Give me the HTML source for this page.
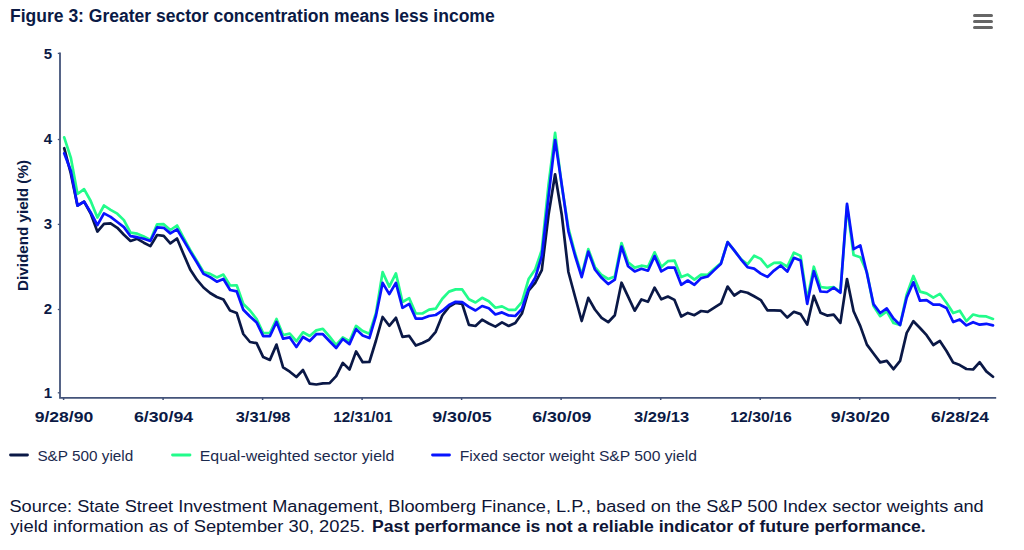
<!DOCTYPE html>
<html><head><meta charset="utf-8"><title>Figure 3</title>
<style>html,body{margin:0;padding:0;background:#fff;width:1024px;height:550px;overflow:hidden}svg{display:block}text{font-family:"Liberation Sans",sans-serif}</style>
</head><body>
<svg width="1024" height="550" viewBox="0 0 1024 550"><rect width="1024" height="550" fill="#ffffff"/><text x="10" y="21.7" font-family="Liberation Sans, sans-serif" font-weight="bold" font-size="18" fill="#0b1a45" textLength="484.7" lengthAdjust="spacingAndGlyphs">Figure 3: Greater sector concentration means less income</text><g stroke="#666666" stroke-width="3" stroke-linecap="round"><path d="M974.5,15.5 H991.5"/><path d="M974.5,21.5 H991.5"/><path d="M974.5,27.5 H991.5"/></g><text transform="translate(28.4,225.5) rotate(-90)" text-anchor="middle" font-family="Liberation Sans, sans-serif" font-weight="bold" font-size="14" fill="#0b1a45" textLength="131" lengthAdjust="spacingAndGlyphs">Dividend yield (%)</text><path d="M60,52.6 V397.9 H996.2" fill="none" stroke="#44547a" stroke-width="1.8"/><path d="M57.8,53.4 H60" stroke="#44547a" stroke-width="1.3"/><path d="M57.8,139.5 H60" stroke="#44547a" stroke-width="1.3"/><path d="M57.8,224.4 H60" stroke="#44547a" stroke-width="1.3"/><path d="M57.8,309.5 H60" stroke="#44547a" stroke-width="1.3"/><path d="M57.8,392.8 H60" stroke="#44547a" stroke-width="1.3"/><text x="52" y="59.0" text-anchor="end" font-family="Liberation Sans, sans-serif" font-weight="bold" font-size="15" fill="#0b1a45">5</text><text x="52" y="143.8" text-anchor="end" font-family="Liberation Sans, sans-serif" font-weight="bold" font-size="15" fill="#0b1a45">4</text><text x="52" y="228.7" text-anchor="end" font-family="Liberation Sans, sans-serif" font-weight="bold" font-size="15" fill="#0b1a45">3</text><text x="52" y="313.6" text-anchor="end" font-family="Liberation Sans, sans-serif" font-weight="bold" font-size="15" fill="#0b1a45">2</text><text x="52" y="398.4" text-anchor="end" font-family="Liberation Sans, sans-serif" font-weight="bold" font-size="15" fill="#0b1a45">1</text><path d="M63.6,397.5 V400" stroke="#44547a" stroke-width="1.5"/><text x="34.7" y="421.5" font-family="Liberation Sans, sans-serif" font-weight="bold" font-size="14.5" fill="#0b1a45" textLength="58.6" lengthAdjust="spacingAndGlyphs">9/28/90</text><path d="M163.1,397.5 V400" stroke="#44547a" stroke-width="1.5"/><text x="134.0" y="421.5" font-family="Liberation Sans, sans-serif" font-weight="bold" font-size="14.5" fill="#0b1a45" textLength="59.1" lengthAdjust="spacingAndGlyphs">6/30/94</text><path d="M262.6,397.5 V400" stroke="#44547a" stroke-width="1.5"/><text x="235.7" y="421.5" font-family="Liberation Sans, sans-serif" font-weight="bold" font-size="14.5" fill="#0b1a45" textLength="54.8" lengthAdjust="spacingAndGlyphs">3/31/98</text><path d="M362.1,397.5 V400" stroke="#44547a" stroke-width="1.5"/><text x="333.3" y="421.5" font-family="Liberation Sans, sans-serif" font-weight="bold" font-size="14.5" fill="#0b1a45" textLength="59.2" lengthAdjust="spacingAndGlyphs">12/31/01</text><path d="M461.6,397.5 V400" stroke="#44547a" stroke-width="1.5"/><text x="432.2" y="421.5" font-family="Liberation Sans, sans-serif" font-weight="bold" font-size="14.5" fill="#0b1a45" textLength="59.5" lengthAdjust="spacingAndGlyphs">9/30/05</text><path d="M561.1,397.5 V400" stroke="#44547a" stroke-width="1.5"/><text x="532.2" y="421.5" font-family="Liberation Sans, sans-serif" font-weight="bold" font-size="14.5" fill="#0b1a45" textLength="59.2" lengthAdjust="spacingAndGlyphs">6/30/09</text><path d="M660.7,397.5 V400" stroke="#44547a" stroke-width="1.5"/><text x="634.0" y="421.5" font-family="Liberation Sans, sans-serif" font-weight="bold" font-size="14.5" fill="#0b1a45" textLength="55.1" lengthAdjust="spacingAndGlyphs">3/29/13</text><path d="M760.2,397.5 V400" stroke="#44547a" stroke-width="1.5"/><text x="730.2" y="421.5" font-family="Liberation Sans, sans-serif" font-weight="bold" font-size="14.5" fill="#0b1a45" textLength="61.5" lengthAdjust="spacingAndGlyphs">12/30/16</text><path d="M859.7,397.5 V400" stroke="#44547a" stroke-width="1.5"/><text x="830.8" y="421.5" font-family="Liberation Sans, sans-serif" font-weight="bold" font-size="14.5" fill="#0b1a45" textLength="59.1" lengthAdjust="spacingAndGlyphs">9/30/20</text><path d="M959.2,397.5 V400" stroke="#44547a" stroke-width="1.5"/><text x="931.0" y="421.5" font-family="Liberation Sans, sans-serif" font-weight="bold" font-size="14.5" fill="#0b1a45" textLength="58.0" lengthAdjust="spacingAndGlyphs">6/28/24</text><path d="M64.2,148.2 L70.8,173.5 L77.5,205.6 L84.1,201.6 L90.7,213.5 L97.4,231.6 L104.0,223.9 L110.6,223.3 L117.3,227.8 L123.9,234.8 L130.5,241.0 L137.2,238.8 L143.8,242.7 L150.4,246.1 L157.1,235.0 L163.7,235.9 L170.3,243.3 L177.0,238.5 L183.6,254.2 L190.2,269.5 L196.9,279.7 L203.5,287.5 L210.1,293.0 L216.8,297.0 L223.4,299.5 L230.1,310.6 L236.7,312.9 L243.3,334.0 L250.0,342.0 L256.6,343.2 L263.2,357.1 L269.9,359.9 L276.5,344.6 L283.1,367.3 L289.8,371.7 L296.4,377.0 L303.0,370.0 L309.7,383.6 L316.3,384.5 L322.9,383.4 L329.6,383.1 L336.2,376.1 L342.8,362.9 L349.5,369.5 L356.1,351.4 L362.7,362.2 L369.4,362.0 L376.0,340.5 L382.6,317.0 L389.3,325.8 L395.9,317.8 L402.5,336.9 L409.2,335.9 L415.8,345.6 L422.4,343.0 L429.1,339.7 L435.7,331.8 L442.3,315.5 L449.0,306.9 L455.6,302.8 L462.2,304.0 L468.9,324.8 L475.5,326.0 L482.1,319.7 L488.8,323.5 L495.4,326.6 L502.0,322.4 L508.7,326.0 L515.3,323.0 L521.9,313.5 L528.6,290.6 L535.2,282.9 L541.8,270.2 L548.5,215.0 L555.1,174.3 L561.8,215.0 L568.4,272.0 L575.0,296.5 L581.7,321.0 L588.3,297.8 L594.9,309.5 L601.6,317.8 L608.2,322.2 L614.8,315.2 L621.5,282.7 L628.1,296.6 L634.7,310.7 L641.4,299.5 L648.0,301.8 L654.6,287.6 L661.3,299.3 L667.9,296.5 L674.5,299.9 L681.2,316.5 L687.8,312.9 L694.4,315.2 L701.1,311.0 L707.7,311.8 L714.3,307.6 L721.0,303.4 L727.6,286.6 L734.2,295.5 L740.9,291.2 L747.5,292.7 L754.1,296.3 L760.8,300.1 L767.4,310.3 L774.0,310.3 L780.7,310.6 L787.3,317.6 L793.9,311.8 L800.6,314.1 L807.2,324.6 L813.8,295.9 L820.5,312.7 L827.1,315.6 L833.7,314.6 L840.4,322.9 L847.0,279.0 L853.6,311.3 L860.3,326.1 L866.9,344.6 L873.5,353.5 L880.2,362.4 L886.8,360.9 L893.5,369.2 L900.1,360.9 L906.7,332.9 L913.4,321.2 L920.0,328.0 L926.6,335.2 L933.3,345.0 L939.9,340.9 L946.5,351.0 L953.2,362.6 L959.8,365.1 L966.4,369.0 L973.1,369.5 L979.7,362.2 L986.3,371.4 L993.0,376.7" fill="none" stroke="#0a1846" stroke-width="2.7" stroke-linejoin="round" stroke-linecap="round"/><path d="M64.2,137.3 L70.8,157.6 L77.5,194.0 L84.1,189.2 L90.7,201.0 L97.4,217.6 L104.0,205.5 L110.6,209.9 L117.3,213.7 L123.9,220.1 L130.5,232.6 L137.2,233.7 L143.8,236.5 L150.4,240.0 L157.1,224.4 L163.7,224.2 L170.3,230.0 L177.0,225.5 L183.6,238.0 L190.2,250.0 L196.9,261.0 L203.5,272.0 L210.1,273.9 L216.8,277.4 L223.4,274.6 L230.1,285.5 L236.7,285.3 L243.3,304.0 L250.0,310.5 L256.6,319.0 L263.2,333.0 L269.9,333.0 L276.5,319.0 L283.1,335.0 L289.8,333.6 L296.4,341.2 L303.0,332.3 L309.7,336.0 L316.3,330.4 L322.9,328.8 L329.6,336.7 L336.2,345.0 L342.8,337.4 L349.5,341.2 L356.1,325.9 L362.7,331.0 L369.4,333.7 L376.0,313.0 L382.6,272.1 L389.3,286.7 L395.9,273.4 L402.5,302.0 L409.2,298.2 L415.8,313.5 L422.4,313.5 L429.1,309.7 L435.7,308.7 L442.3,298.7 L449.0,291.6 L455.6,289.4 L462.2,289.4 L468.9,299.3 L475.5,302.5 L482.1,297.8 L488.8,301.2 L495.4,307.7 L502.0,306.4 L508.7,309.9 L515.3,309.9 L521.9,302.0 L528.6,279.1 L535.2,269.5 L541.8,250.0 L548.5,185.0 L555.1,132.8 L561.8,186.0 L568.4,228.0 L575.0,253.0 L581.7,275.0 L588.3,249.1 L594.9,267.0 L601.6,275.0 L608.2,279.0 L614.8,276.5 L621.5,243.0 L628.1,262.2 L634.7,267.6 L641.4,265.7 L648.0,266.9 L654.6,252.3 L661.3,266.9 L667.9,261.2 L674.5,260.6 L681.2,277.1 L687.8,274.6 L694.4,279.6 L701.1,274.6 L707.7,274.8 L714.3,268.8 L721.0,263.1 L727.6,242.1 L734.2,250.4 L740.9,259.0 L747.5,264.4 L754.1,255.7 L760.8,258.9 L767.4,267.0 L774.0,262.9 L780.7,262.7 L787.3,266.7 L793.9,252.7 L800.6,255.9 L807.2,300.0 L813.8,266.7 L820.5,287.0 L827.1,287.9 L833.7,287.0 L840.4,292.0 L847.0,206.0 L853.6,255.0 L860.3,257.2 L866.9,272.0 L873.5,306.0 L880.2,316.2 L886.8,311.3 L893.5,323.0 L900.1,325.0 L906.7,294.4 L913.4,275.9 L920.0,291.6 L926.6,293.4 L933.3,297.6 L939.9,293.8 L946.5,302.8 L953.2,313.1 L959.8,310.7 L966.4,321.1 L973.1,314.5 L979.7,316.2 L986.3,316.4 L993.0,318.9" fill="none" stroke="#22fc8b" stroke-width="2.7" stroke-linejoin="round" stroke-linecap="round"/><path d="M64.2,153.3 L70.8,170.7 L77.5,205.6 L84.1,201.6 L90.7,212.5 L97.4,225.2 L104.0,213.4 L110.6,216.9 L117.3,222.0 L123.9,227.1 L130.5,236.2 L137.2,237.2 L143.8,238.8 L150.4,241.0 L157.1,227.4 L163.7,227.8 L170.3,233.4 L177.0,229.3 L183.6,240.2 L190.2,251.6 L196.9,262.5 L203.5,273.9 L210.1,277.1 L216.8,281.7 L223.4,279.0 L230.1,290.0 L236.7,291.4 L243.3,309.7 L250.0,316.5 L256.6,322.4 L263.2,336.1 L269.9,336.1 L276.5,322.0 L283.1,338.7 L289.8,337.4 L296.4,347.0 L303.0,337.0 L309.7,341.0 L316.3,334.2 L322.9,334.2 L329.6,341.2 L336.2,348.0 L342.8,339.0 L349.5,344.1 L356.1,329.1 L362.7,335.5 L369.4,338.1 L376.0,315.5 L382.6,282.9 L389.3,294.1 L395.9,282.9 L402.5,307.8 L409.2,303.9 L415.8,318.6 L422.4,318.6 L429.1,316.0 L435.7,315.0 L442.3,310.7 L449.0,305.0 L455.6,301.8 L462.2,302.1 L468.9,306.9 L475.5,310.5 L482.1,306.0 L488.8,308.2 L495.4,314.5 L502.0,312.4 L508.7,315.4 L515.3,316.0 L521.9,309.0 L528.6,288.7 L535.2,277.8 L541.8,256.0 L548.5,197.0 L555.1,140.0 L561.8,185.0 L568.4,231.3 L575.0,255.5 L581.7,277.1 L588.3,251.6 L594.9,269.5 L601.6,277.8 L608.2,284.1 L614.8,279.7 L621.5,246.5 L628.1,266.3 L634.7,271.4 L641.4,268.8 L648.0,270.7 L654.6,256.1 L661.3,271.4 L667.9,267.6 L674.5,267.6 L681.2,284.8 L687.8,280.5 L694.4,284.8 L701.1,278.1 L707.7,276.5 L714.3,270.1 L721.0,263.7 L727.6,242.1 L734.2,250.4 L740.9,259.3 L747.5,267.2 L754.1,268.6 L760.8,273.6 L767.4,276.9 L774.0,270.6 L780.7,265.5 L787.3,271.6 L793.9,257.8 L800.6,260.4 L807.2,303.9 L813.8,271.2 L820.5,291.5 L827.1,292.0 L833.7,287.6 L840.4,292.7 L847.0,203.8 L853.6,249.2 L860.3,245.4 L866.9,273.2 L873.5,304.1 L880.2,313.0 L886.8,308.4 L893.5,318.5 L900.1,325.0 L906.7,297.6 L913.4,282.3 L920.0,300.7 L926.6,300.1 L933.3,304.6 L939.9,304.7 L946.5,308.0 L953.2,322.0 L959.8,319.4 L966.4,325.4 L973.1,322.2 L979.7,324.7 L986.3,323.8 L993.0,325.4" fill="none" stroke="#0814ff" stroke-width="2.7" stroke-linejoin="round" stroke-linecap="round"/><path d="M10.5,455 H27.5" stroke="#0a1846" stroke-width="2.8" stroke-linecap="round"/><text x="37.4" y="460.7" font-family="Liberation Sans, sans-serif" font-size="15" fill="#1b2a4e" textLength="95.9" lengthAdjust="spacingAndGlyphs">S&amp;P 500 yield</text><path d="M172.5,455 H190" stroke="#22fc8b" stroke-width="2.8" stroke-linecap="round"/><text x="199.7" y="460.7" font-family="Liberation Sans, sans-serif" font-size="15" fill="#1b2a4e" textLength="194.7" lengthAdjust="spacingAndGlyphs">Equal-weighted sector yield</text><path d="M432.5,455 H449.5" stroke="#0814ff" stroke-width="2.8" stroke-linecap="round"/><text x="459.8" y="460.7" font-family="Liberation Sans, sans-serif" font-size="15" fill="#1b2a4e" textLength="237.1" lengthAdjust="spacingAndGlyphs">Fixed sector weight S&amp;P 500 yield</text><text x="9.5" y="511.9" font-family="Liberation Sans, sans-serif" font-size="16" fill="#0e1536" textLength="974.2" lengthAdjust="spacingAndGlyphs">Source: State Street Investment Management, Bloomberg Finance, L.P., based on the S&amp;P 500 Index sector weights and</text><text x="10.2" y="531.9" font-family="Liberation Sans, sans-serif" font-size="16" fill="#0e1536" textLength="354.8" lengthAdjust="spacingAndGlyphs">yield information as of September 30, 2025.</text><text x="372.1" y="531.9" font-family="Liberation Sans, sans-serif" font-weight="bold" font-size="16" fill="#0e1536" textLength="553.6" lengthAdjust="spacingAndGlyphs">Past performance is not a reliable indicator of future performance.</text></svg>
</body></html>
